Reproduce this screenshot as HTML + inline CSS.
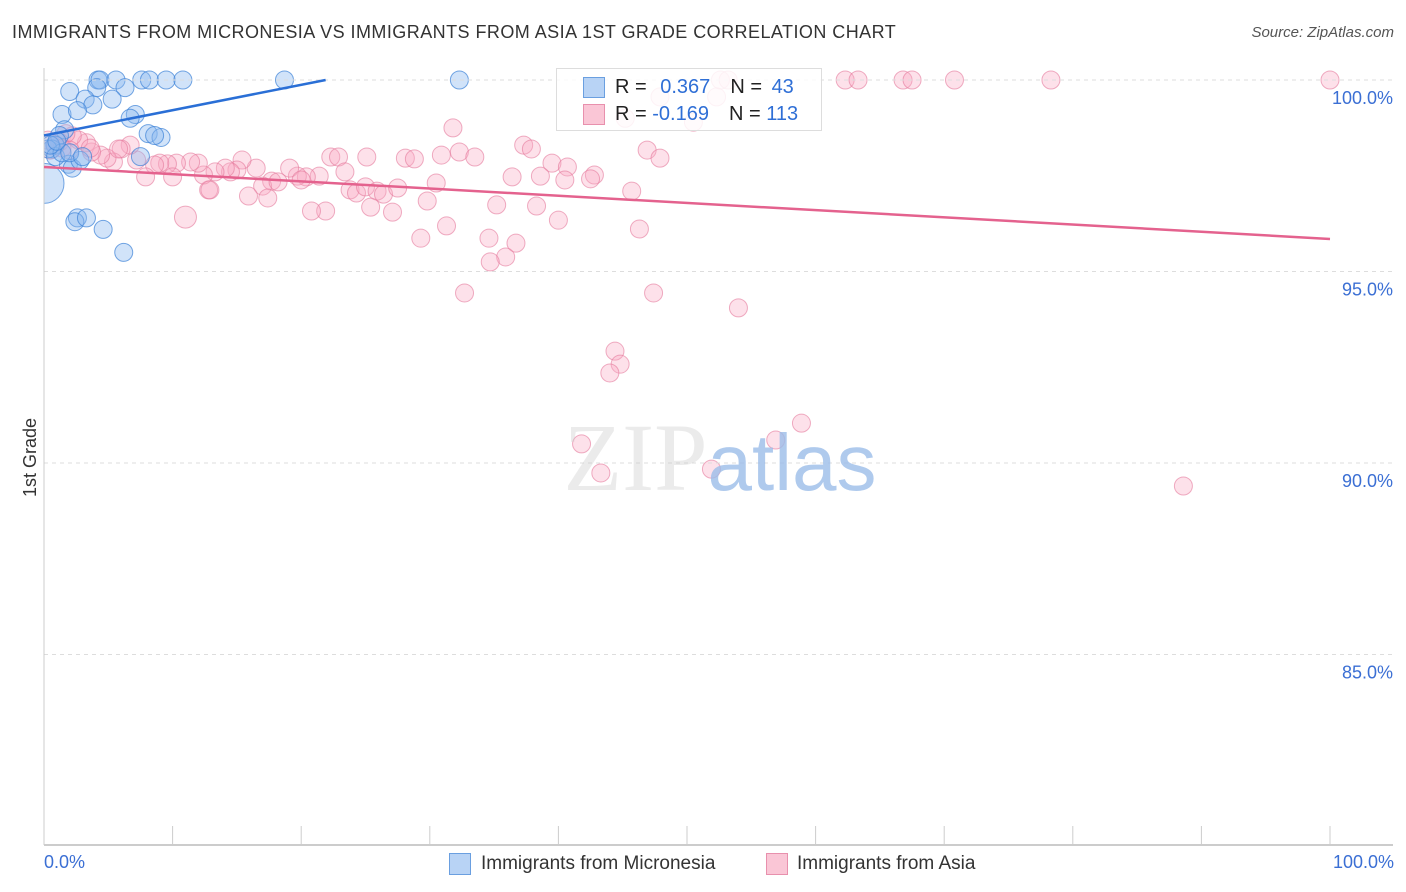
<!DOCTYPE html>
<html><head><meta charset="utf-8"><style>
body{margin:0;background:#fff;font-family:"Liberation Sans",sans-serif;}
#wrap{position:relative;width:1406px;height:892px;overflow:hidden;}
.t{position:absolute;white-space:nowrap;}
</style></head><body>
<div id="wrap">
<div class="t" style="left:12px;top:22px;font-size:18px;letter-spacing:0.45px;color:#333;">IMMIGRANTS FROM MICRONESIA VS IMMIGRANTS FROM ASIA 1ST GRADE CORRELATION CHART</div>
<div class="t" style="right:12px;top:24px;font-size:15px;color:#555;font-style:italic;">Source: ZipAtlas.com</div>
<svg id="svg" width="1406" height="892" style="position:absolute;left:0;top:0;"><defs><clipPath id="pc"><rect x="44" y="55" width="1362" height="790"/></clipPath></defs><g id="marks" clip-path="url(#pc)"></g></svg>
</div>
<script>
const yTicks=[100,95,90,85];
const yTickLabels=["100.0%","95.0%","90.0%","85.0%"];
const blueX=[4.2,4.35,5.6,7.6,8.2,9.5,10.8,18.7,32.3,2.0,4.1,6.3,1.4,3.2,3.8,5.3,2.6,7.1,6.7,8.1,9.1,8.6,1.6,1.2,0.86,0.62,1.9,2.2,2.8,7.5,2.6,2.4,3.3,4.6,6.2,0,0.3,0.9,1.4,0.5,1.0,2.0,3.0];
const blueY=[100,100,100,100,100,100,100,100,100,99.7,99.8,99.8,99.1,99.5,99.35,99.5,99.2,99.1,99.0,98.6,98.5,98.55,98.7,98.55,98.3,98.2,97.8,97.7,97.9,98.0,96.4,96.3,96.4,96.1,95.5,97.3,98.2,98.0,98.1,98.3,98.4,98.1,98.0];
const blueR=[9,9,9,9,9,9,9,9,9,9,9,9,9,9,9,9,9,9,9,9,9,9,9,9,9,9,9,9,9,9,9,9,9,9,9,20,9,9,9,9,9,9,9];
const pinkX=[52.6,53.2,62.3,63.3,66.8,67.5,70.8,78.3,100,52.3,47.9,45.2,50.5,31.8,37.3,37.9,46.9,47.9,39.5,40.7,42.8,42.5,40.5,38.6,36.4,45.7,35.2,38.3,40.0,46.3,36.7,34.6,35.9,34.7,32.7,47.4,54.0,44.4,44.8,44.0,58.9,56.9,43.3,51.9,88.6,41.8,30.9,32.3,33.5,28.1,28.8,25.1,22.3,22.9,23.4,21.4,20.4,19.7,19.1,17.7,17.0,18.2,20.0,23.8,24.3,25.0,25.9,26.4,27.5,30.5,29.8,27.1,25.4,21.9,20.8,31.3,29.3,16.5,15.4,15.0,14.5,14.1,13.3,12.8,12.4,12.0,11.4,10.3,9.6,9.0,8.6,10.0,7.9,7.2,6.7,6.0,5.4,4.9,4.4,3.7,3.3,2.7,2.2,1.7,1.2,0.9,0.5,0.3,1.4,2.0,3.6,11.0,15.9,17.4,12.9,5.8];
const pinkY=[100,100,100,100,100,100,100,100,100,99.56,99.56,99.0,98.9,98.75,98.3,98.2,98.17,97.96,97.83,97.73,97.52,97.42,97.39,97.49,97.47,97.1,96.74,96.71,96.34,96.11,95.74,95.87,95.38,95.25,94.44,94.44,94.05,92.92,92.58,92.35,91.04,90.6,89.74,89.84,89.4,90.5,98.04,98.12,97.99,97.96,97.94,97.99,97.99,97.99,97.6,97.49,97.47,97.49,97.7,97.36,97.23,97.34,97.39,97.13,97.05,97.21,97.1,97.02,97.18,97.31,96.84,96.55,96.68,96.58,96.58,96.19,95.87,97.7,97.91,97.65,97.6,97.7,97.6,97.13,97.52,97.83,97.86,97.83,97.81,97.83,97.78,97.47,97.47,97.91,98.3,98.2,97.86,97.96,98.04,98.12,98.36,98.43,98.54,98.6,98.38,98.3,98.17,98.43,98.22,98.17,98.22,96.42,96.97,96.92,97.13,98.2];
const blueLine=[[0,98.55],[21.9,100]];
const pinkLine=[[0,97.73],[100,95.85]];
const X=v=>44+v*12.86, Y=v=>80+(100-v)*38.3;
const svg=document.getElementById('svg');const marks=document.getElementById('marks');const NS='http://www.w3.org/2000/svg';
function mk(t,a,p){const e=document.createElementNS(NS,t);for(const k in a)e.setAttribute(k,a[k]);(p||svg).appendChild(e);return e;}
yTicks.forEach((v,i)=>{const g=mk('line',{x1:44,x2:1393,y1:Y(v),y2:Y(v),stroke:'#ddd','stroke-dasharray':'4,4'});


const t=mk('text',{x:1393,y:Y(v)+24,'text-anchor':'end','font-size':18,fill:'#3b6fd4','font-family':'Liberation Sans'});t.textContent=yTickLabels[i];

});
const ax=mk('line',{x1:44,x2:1393,y1:845,y2:845,stroke:'#bbb','stroke-width':1.5});


const ay=mk('line',{x1:44,x2:44,y1:68,y2:845,stroke:'#ccc'});


for(let i=0;i<=10;i++){const tk=mk('line',{x1:X(i*10),x2:X(i*10),y1:826,y2:845,stroke:'#ccc'});

}
const wm=mk('text',{x:720,y:490,'text-anchor':'middle','font-size':96,'font-family':'Liberation Serif',fill:'#ccc','fill-opacity':0.4});


wm.innerHTML='ZIP<tspan fill="#9bbde8" fill-opacity="0.8" font-family="Liberation Sans" font-size="80">atlas</tspan>';
pinkX.forEach((v,i)=>{const c=mk('circle',{cx:X(v),cy:Y(pinkY[i]),r:(i==111?11:9),fill:'rgba(248,170,195,0.35)',stroke:'rgba(228,120,155,0.6)'},marks);

});
blueX.forEach((v,i)=>{const c=mk('circle',{cx:X(v),cy:Y(blueY[i]),r:blueR[i],fill:'rgba(140,185,240,0.4)',stroke:'rgba(60,130,215,0.7)'},marks);

});
const bl=mk('line',{x1:X(blueLine[0][0]),y1:Y(blueLine[0][1]),x2:X(blueLine[1][0]),y2:Y(blueLine[1][1]),stroke:'#2a6fd6','stroke-width':2.5});


const pl=mk('line',{x1:X(pinkLine[0][0]),y1:Y(pinkLine[0][1]),x2:X(pinkLine[1][0]),y2:Y(pinkLine[1][1]),stroke:'#e4628e','stroke-width':2.5});


</script>
<div class="t" style="left:20px;top:455px;transform:rotate(-90deg);transform-origin:left top;font-size:18px;color:#333;"><span style="position:relative;left:-42px">1st Grade</span></div>
<div class="t" style="left:44px;top:852px;font-size:18px;color:#3b6fd4;">0.0%</div>
<div class="t" style="right:12px;top:852px;font-size:18px;color:#3b6fd4;">100.0%</div>
<div class="t" style="left:556px;top:68px;width:264px;height:61px;border:1px solid #ddd;background:rgba(255,255,255,0.85);">
<div style="position:absolute;left:26px;top:8px;width:20px;height:19px;background:#b8d3f5;border:1px solid #6a9fe0;"></div>
<div style="position:absolute;left:58px;top:7px;font-size:20px;color:#222;">R = <span style="color:#2f6fd6;margin-left:8px">0.367</span><span style="margin-left:20px">N = </span><span style="color:#2f6fd6;margin-left:4px">43</span></div>
<div style="position:absolute;left:26px;top:35px;width:20px;height:19px;background:#fac6d6;border:1px solid #e890ad;"></div>
<div style="position:absolute;left:58px;top:34px;font-size:20px;color:#222;">R = <span style="color:#2f6fd6">-0.169</span><span style="margin-left:20px">N = </span><span style="color:#2f6fd6">113</span></div>
</div>
<div class="t" style="left:449px;top:853px;width:20px;height:20px;background:#b8d3f5;border:1px solid #6a9fe0;"></div>
<div class="t" style="left:481px;top:853px;font-size:19px;color:#333;">Immigrants from Micronesia</div>
<div class="t" style="left:766px;top:853px;width:20px;height:20px;background:#fac6d6;border:1px solid #e890ad;"></div>
<div class="t" style="left:797px;top:853px;font-size:19px;color:#333;">Immigrants from Asia</div>
</body></html>
